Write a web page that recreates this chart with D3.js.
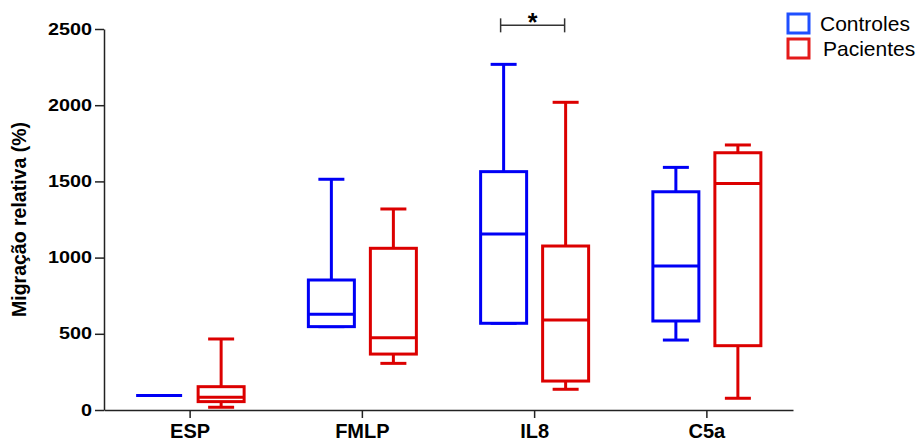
<!DOCTYPE html>
<html>
<head>
<meta charset="utf-8">
<script src="https://cdn.jsdelivr.net/npm/d3@7"></script>
<style>
  body { margin: 0; background: #fff; }
  svg { display: block; }
  svg text { font-family: "Liberation Sans", Arial, sans-serif; }
</style>
</head>
<body>
<svg id="chart" width="921" height="443"></svg>
<script>
const categories = ["ESP", "FMLP", "IL8", "C5a"];
const groups = ["Controles", "Pacientes"];
const yTicks = [0, 500, 1000, 1500, 2000, 2500];

// five-number summaries: [min, q1, median, q3, max]
const controles = [
  [95, 95, 95, 95, 95],
  [547, 547, 628, 853, 1514],
  [569, 569, 1155, 1564, 2268],
  [459, 584, 945, 1432, 1592]
];
const pacientes = [
  [18, 55, 83, 153, 466],
  [306, 367, 474, 1061, 1319],
  [136, 190, 591, 1076, 2019],
  [77, 422, 1487, 1688, 1739]
];

const colors = { Controles: "#0000f5", Pacientes: "#dc0000" };
const legendColors = { Controles: "#1f4fff", Pacientes: "#e41a1a" };

const svg = d3.select("#chart");
const plotLeft = 104, plotRight = 793, plotTop = 29, plotBottom = 410;

const x = d3.scaleBand().domain(categories).range([plotLeft, plotRight]).padding(0);
const sub = d3.scalePoint().domain(groups).range([0, x.bandwidth()]).padding(0.889);
const y = d3.scaleLinear().domain([0, 2500]).range([plotBottom, plotTop]);

const boxW = 46;
const capW = 26;

// axes
const yAxis = svg.append("g")
  .attr("transform", `translate(${plotLeft},0)`)
  .call(d3.axisLeft(y).tickValues(yTicks).tickFormat(d3.format("d"))
    .tickSize(9).tickSizeOuter(0).tickPadding(3));
// the original digits are drawn wide, so stretch them a little
yAxis.selectAll("text")
  .style("font-size", "16px")
  .style("font-weight", "bold")
  .attr("fill", "#000")
  .attr("lengthAdjust", "spacingAndGlyphs")
  .attr("textLength", function () { return this.textContent.length * 11; });

const xAxis = svg.append("g")
  .attr("transform", `translate(0,${plotBottom})`)
  .call(d3.axisBottom(x).tickSize(8).tickSizeOuter(0).tickPadding(6));
xAxis.selectAll("text")
  .style("font-size", "20px")
  .style("font-weight", "bold")
  .attr("fill", "#000");

svg.selectAll(".domain, .tick line").attr("stroke", "#222").attr("stroke-width", 1.5);

svg.append("text")
  .attr("transform", `translate(26,${(plotTop + plotBottom) / 2}) rotate(-90)`)
  .attr("text-anchor", "middle")
  .style("font-size", "19.5px")
  .style("font-weight", "bold")
  .text("Migração relativa (%)");

// boxes
const rows = [];
categories.forEach((c, i) => {
  rows.push({ cat: c, group: "Controles", s: controles[i] });
  rows.push({ cat: c, group: "Pacientes", s: pacientes[i] });
});

const box = svg.append("g").selectAll("g")
  .data(rows)
  .join("g")
  .attr("transform", (d) => `translate(${x(d.cat) + sub(d.group)},0)`)
  .attr("stroke", (d) => colors[d.group])
  .attr("stroke-width", 3)
  .attr("fill", "none");

// whiskers
box.append("line")
  .attr("x1", 0).attr("x2", 0)
  .attr("y1", (d) => y(d.s[4])).attr("y2", (d) => y(d.s[3]));
box.append("line")
  .attr("x1", 0).attr("x2", 0)
  .attr("y1", (d) => y(d.s[1])).attr("y2", (d) => y(d.s[0]));
box.append("line")
  .attr("x1", -capW / 2).attr("x2", capW / 2)
  .attr("y1", (d) => y(d.s[4])).attr("y2", (d) => y(d.s[4]));
box.append("line")
  .attr("x1", -capW / 2).attr("x2", capW / 2)
  .attr("y1", (d) => y(d.s[0])).attr("y2", (d) => y(d.s[0]));

box.append("rect")
  .attr("x", -boxW / 2)
  .attr("width", boxW)
  .attr("y", (d) => y(d.s[3]))
  .attr("height", (d) => y(d.s[1]) - y(d.s[3]))
  .attr("fill", "#fff");
box.append("line")
  .attr("x1", -boxW / 2).attr("x2", boxW / 2)
  .attr("y1", (d) => y(d.s[2])).attr("y2", (d) => y(d.s[2]));

// significance bar on IL8
const sigX1 = x("IL8") + sub("Controles") - 3;
const sigX2 = x("IL8") + sub("Pacientes") - 1;
const sigY = y(2524);
const sig = svg.append("g").attr("stroke", "#333").attr("stroke-width", 1.5);
sig.append("line").attr("x1", sigX1).attr("x2", sigX2).attr("y1", sigY).attr("y2", sigY);
sig.append("line").attr("x1", sigX1).attr("x2", sigX1).attr("y1", sigY - 7).attr("y2", sigY + 7);
sig.append("line").attr("x1", sigX2).attr("x2", sigX2).attr("y1", sigY - 7).attr("y2", sigY + 7);
svg.append("text")
  .attr("x", (sigX1 + sigX2) / 2)
  .attr("y", sigY + 6)
  .attr("text-anchor", "middle")
  .style("font-size", "25px")
  .style("font-weight", "bold")
  .text("*");

// legend
const legend = svg.append("g").attr("transform", "translate(788,14)");
groups.forEach((gname, i) => {
  legend.append("rect")
    .attr("x", 0).attr("y", i * 25)
    .attr("width", 21).attr("height", 19)
    .attr("fill", "none")
    .attr("stroke", legendColors[gname])
    .attr("stroke-width", 3);
  legend.append("text")
    .attr("x", 32 + i * 3).attr("y", i * 25 + 17)
    .style("font-size", "21px")
    .text(gname);
});
</script>
</body>
</html>
